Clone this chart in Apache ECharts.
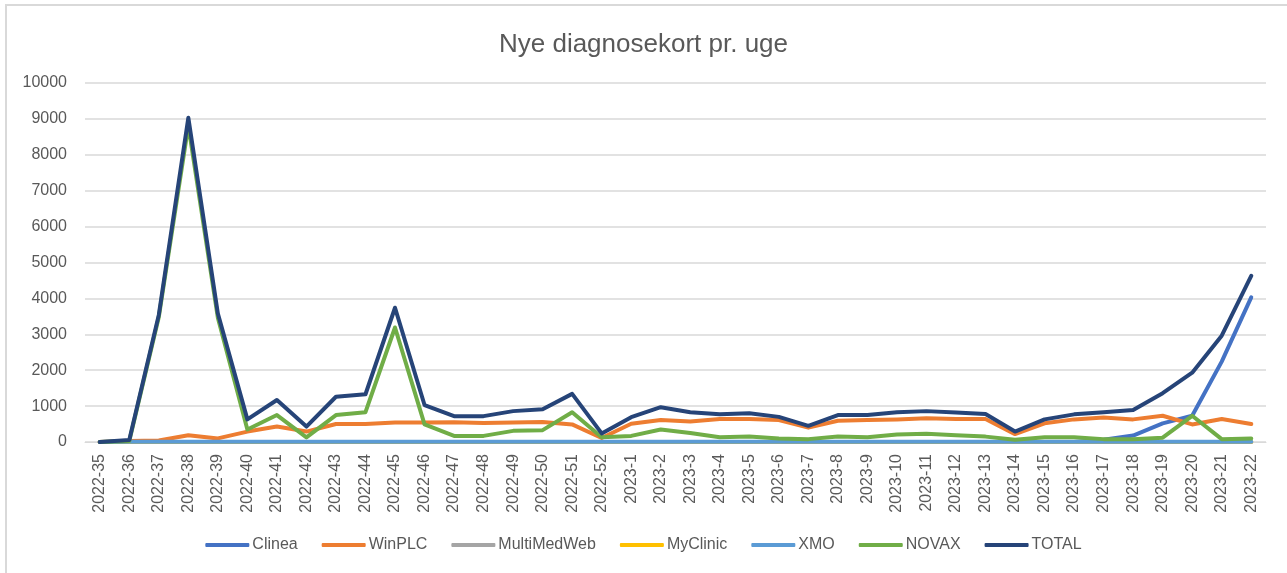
<!DOCTYPE html>
<html>
<head>
<meta charset="utf-8">
<script src="https://cdn.jsdelivr.net/npm/echarts@6/dist/echarts.min.js"></script>
<style>
  html, body { margin: 0; padding: 0; background: #fff; }
  #frame { position: absolute; left: 5px; top: 4px; width: 1300px; height: 600px; border-left: 2px solid #d9d9d9; border-top: 2px solid #d9d9d9; box-sizing: border-box; }
  #chart { position: absolute; left: 0; top: 0; width: 1287px; height: 573px; }
</style>
</head>
<body>
<div id="frame"></div>
<div id="chart"></div>
<script>
const categories = [
  "2022-35","2022-36","2022-37","2022-38","2022-39","2022-40","2022-41","2022-42","2022-43","2022-44",
  "2022-45","2022-46","2022-47","2022-48","2022-49","2022-50","2022-51","2022-52",
  "2023-1","2023-2","2023-3","2023-4","2023-5","2023-6","2023-7","2023-8","2023-9","2023-10",
  "2023-11","2023-12","2023-13","2023-14","2023-15","2023-16","2023-17","2023-18","2023-19","2023-20",
  "2023-21","2023-22"
];
const clinea = [0,0,0,0,0,0,0,0,0,0, 0,0,0,0,0,0,0,0, 0,0,0,0,0,0,0,0,0,0, 0,0,0,0,0,0,60,180,520,730, 2240,4030];
const winplc = [0,30,40,190,100,290,430,290,500,500, 540,540,550,530,540,560,490,110, 510,610,570,640,640,610,400,590,610,630, 660,640,640,220,520,630,680,630,730,490, 640,500];
const multimedweb = [0,0,0,0,0,0,0,0,0,0, 0,0,0,0,0,0,0,0, 0,0,0,0,0,0,0,0,0,0, 0,0,0,0,0,0,0,0,0,0, 0,0];
const myclinic = [0,0,0,0,0,0,0,0,0,0, 0,0,0,0,0,0,0,0, 0,0,0,0,0,0,0,0,0,0, 0,0,0,0,0,0,0,0,0,0, 0,0];
const xmo = [0,10,10,10,10,10,10,10,10,10, 10,10,10,10,10,10,10,10, 10,10,10,10,10,10,10,10,10,10, 10,10,10,10,10,10,10,10,10,10, 10,10];
const novax = [0,30,3480,8820,3460,350,750,130,750,830, 3190,490,170,170,310,330,830,130, 170,350,250,130,150,100,80,150,130,210, 230,190,150,60,130,130,80,80,120,730, 80,100];
const total = [0,55,3540,9030,3580,630,1170,430,1260,1330, 3740,1030,720,720,860,910,1340,240, 690,970,830,770,800,700,450,750,750,830, 860,820,780,290,630,770,830,890,1360,1930, 2960,4630];
const yTicks = { min: 0, max: 10000, interval: 1000 };

const names = ["Clinea","WinPLC","MultiMedWeb","MyClinic","XMO","NOVAX","TOTAL"];
const datas = [clinea, winplc, multimedweb, myclinic, xmo, novax, total];
const colors = ["#4472C4","#ED7D31","#A5A5A5","#FFC000","#5B9BD5","#70AD47","#264478"];
const font = "'Liberation Sans', Arial, sans-serif";

const chart = echarts.init(document.getElementById('chart'), null, { renderer: 'canvas' });
chart.setOption({
  animation: false,
  backgroundColor: 'transparent',
  title: {
    text: 'Nye diagnosekort pr. uge',
    left: 'center',
    top: 27,
    textStyle: { fontFamily: font, fontSize: 26, fontWeight: 'normal', color: '#595959' }
  },
  legend: {
    data: names,
    bottom: 15,
    left: 'center',
    icon: 'roundRect',
    itemWidth: 44,
    itemHeight: 4,
    itemGap: 24,
    textStyle: { fontFamily: font, fontSize: 16, color: '#595959', padding: [0, 0, 0, -2] }
  },
  grid: { left: 85, right: 21, top: 83, bottom: 131, containLabel: false },
  xAxis: {
    type: 'category',
    data: categories,
    boundaryGap: true,
    axisLine: { show: true, lineStyle: { color: '#d9d9d9', width: 1 } },
    axisTick: { show: false },
    axisLabel: { rotate: 90, interval: 0, margin: 12, fontFamily: font, fontSize: 16, color: '#595959' }
  },
  yAxis: {
    type: 'value',
    min: yTicks.min, max: yTicks.max, interval: yTicks.interval,
    axisLine: { show: false },
    axisTick: { show: false },
    splitLine: { lineStyle: { color: '#d9d9d9', width: 1.5 } },
    axisLabel: { margin: 18, fontFamily: font, fontSize: 16, color: '#595959', formatter: v => String(v) }
  },
  series: names.map((n, i) => ({
    name: n,
    type: 'line',
    data: datas[i],
    symbol: 'none',
    smooth: false,
    lineStyle: { width: 4, color: colors[i], join: 'round', cap: 'round' },
    itemStyle: { color: colors[i] },
    z: 2 + i
  }))
});
</script>
</body>
</html>
